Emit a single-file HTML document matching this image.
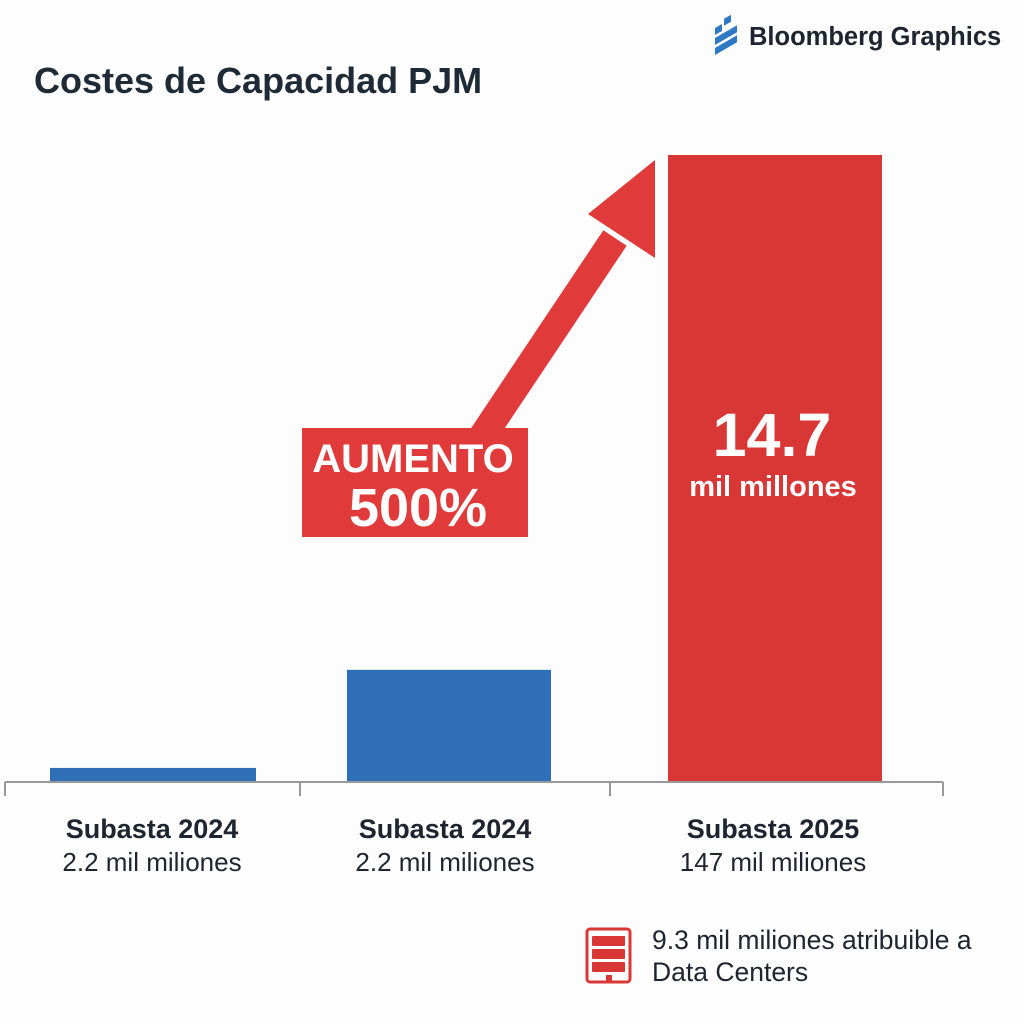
<!DOCTYPE html>
<html><head><meta charset="utf-8"><style>
body{margin:0;background:#fff;width:1024px;height:1024px;overflow:hidden;font-family:"Liberation Sans",sans-serif}
svg{display:block}
</style></head><body>
<svg width="1024" height="1024" viewBox="0 0 1024 1024">
<rect width="1024" height="1024" fill="#fdfdfd"/>
<g>
<g fill="#2f78c4" transform="translate(715,18) skewY(-30)">
<rect x="0" y="10" width="7" height="7"/><rect x="9" y="6" width="7" height="7"/>
<rect x="0" y="20" width="22" height="7"/><rect x="0" y="30" width="22" height="7"/>
</g>
<text x="749" y="45" font-size="25.5" font-weight="bold" fill="#1e2530">Bloomberg Graphics</text>
</g>
<text x="34" y="93" font-size="36" font-weight="bold" fill="#1e2a36">Costes de Capacidad PJM</text>
<g id="bars"></g>
<line x1="5" y1="782" x2="943" y2="782" stroke="#999" stroke-width="2"/>
<g stroke="#999" stroke-width="2">
<line x1="5" y1="782" x2="5" y2="796"/><line x1="300" y1="782" x2="300" y2="796"/>
<line x1="610" y1="782" x2="610" y2="796"/><line x1="943" y1="782" x2="943" y2="796"/>
</g>
<g id="labels"></g>
<g>
<line x1="480" y1="440" x2="615" y2="238" stroke="#e03a3a" stroke-width="28"/>
<polygon points="588,214 655,160 655,258" fill="#e03a3a"/>
</g>
<g>
<rect x="302" y="428" width="226" height="109" fill="#e03a3a"/>
<text x="413" y="472" font-size="40" font-weight="bold" fill="#fff" text-anchor="middle">AUMENTO</text>
<text x="418" y="526" font-size="54" font-weight="bold" fill="#fff" text-anchor="middle">500%</text>
</g>
<text x="772" y="456" font-size="61" font-weight="bold" fill="#fff" text-anchor="middle">14.7</text>
<text x="773" y="496" font-size="29" font-weight="bold" fill="#fff" text-anchor="middle">mil millones</text>
<g>
<rect x="587" y="929" width="43" height="53" rx="3" fill="none" stroke="#d93636" stroke-width="3"/>
<rect x="592" y="936" width="33" height="10" rx="1" fill="#d93636"/>
<rect x="592" y="949" width="33" height="10" rx="1" fill="#d93636"/>
<rect x="592" y="962" width="33" height="10" rx="1" fill="#d93636"/>
<rect x="606" y="975" width="6" height="6" fill="#d93636"/>
</g>
<text x="652" y="949" font-size="26.5" fill="#1e2530">9.3 mil miliones atribuible a</text>
<text x="652" y="981" font-size="26.5" fill="#1e2530">Data Centers</text>
</svg>
<script>
const categories=["Subasta 2024","Subasta 2024","Subasta 2025"];
const subLabels=["2.2 mil miliones","2.2 mil miliones","147 mil miliones"];
const values=[0.33,2.63,14.7];
const colors=["#2f6fb8","#2f6fb8","#d93636"];
const base=782,pxPer=627/14.7;
const xL=[50,347,668],xW=[206,204,214];
const y=v=>base-v*pxPer;
const NS="http://www.w3.org/2000/svg";
const gb=document.getElementById('bars'),gl=document.getElementById('labels');
values.forEach((v,i)=>{
 const r=document.createElementNS(NS,'rect');
 r.setAttribute('x',xL[i]);r.setAttribute('width',xW[i]);
 r.setAttribute('y',y(v));r.setAttribute('height',base-y(v));
 r.setAttribute('fill',colors[i]);
 
 
 gb.appendChild(r);
 const cx=[152,445,773][i];
 const t=document.createElementNS(NS,'text');
 t.setAttribute('x',cx);t.setAttribute('y',838);t.setAttribute('text-anchor','middle');
 t.setAttribute('font-size','27');t.setAttribute('font-weight','bold');t.setAttribute('fill','#1e2530');
 t.textContent=categories[i];
 
 
 gl.appendChild(t);
 const s=document.createElementNS(NS,'text');
 s.setAttribute('x',cx);s.setAttribute('y',871);s.setAttribute('text-anchor','middle');
 s.setAttribute('font-size','26');s.setAttribute('fill','#1e2530');
 s.textContent=subLabels[i];
 
 
 gl.appendChild(s);
});
</script>
</body></html>
